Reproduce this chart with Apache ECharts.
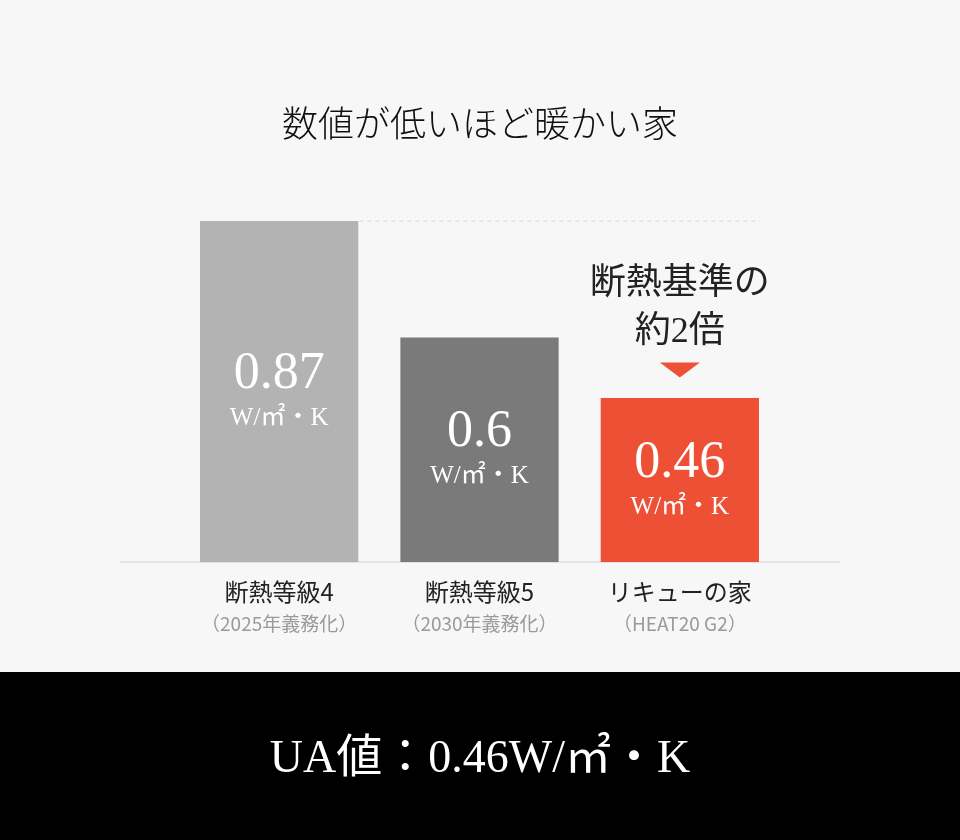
<!DOCTYPE html>
<html>
<head>
<meta charset="utf-8">
<script src="https://cdn.jsdelivr.net/npm/echarts@6/dist/echarts.min.js"></script>
<style>
  html, body { margin: 0; padding: 0; background: #f7f7f7; }
  #main { width: 960px; height: 840px; }
</style>
</head>
<body>
<div id="main"></div>
<script>
// データ
var categories = ['断熱等級4', '断熱等級5', 'リキューの家'];
var subLabels = ['（2025年義務化）', '（2030年義務化）', '（HEAT20 G2）'];
var uaValues = [0.87, 0.6, 0.46];
var barColors = ['#b3b3b3', '#7a7a7a', '#ee5035'];
var unitText = 'W/㎡・K';
var calloutText = '断熱基準の\n約2倍';
var titleText = '数値が低いほど暖かい家';
var footerText = 'UA値：0.46W/㎡・K';

var serif = "'Liberation Serif', 'DejaVu Serif', 'Noto Sans CJK JP', serif";
var sans = "'Noto Sans CJK JP', 'Noto Sans', sans-serif";

var myChart = echarts.init(document.getElementById('main'));

var barData = [];
for (var i = 0; i < uaValues.length; i++) {
    barData.push({ value: uaValues[i], itemStyle: { color: barColors[i] } });
}
var subMap = {};
for (var j = 0; j < categories.length; j++) subMap[categories[j]] = subLabels[j];

// 最大値の点線（バー1右端からバー3右端まで）
var maxVal = Math.max.apply(null, uaValues);
var dashData = [[0.9, maxVal], [uaValues.length - 0.1, maxVal]];

var option = {
    backgroundColor: '#f7f7f7',
    title: {
        text: titleText,
        left: 'center',
        top: 100,
        textStyle: { fontFamily: sans, fontSize: 36, fontWeight: 300, color: '#111' }
    },
    grid: { left: 179, right: 180, top: 221, bottom: 278 },
    xAxis: [{
        type: 'category',
        data: categories,
        axisLine: { show: false },
        axisTick: { show: false },
        axisLabel: {
            margin: 13,
            formatter: function (v) { return '{a|' + v + '}\n{b|' + subMap[v] + '}'; },
            rich: {
                a: { fontFamily: sans, fontSize: 24, color: '#222', lineHeight: 34 },
                b: { fontFamily: sans, fontSize: 19, color: '#9a9a9a', lineHeight: 30 }
            }
        }
    }, {
        type: 'value', min: 0, max: uaValues.length, show: false
    }],
    yAxis: {
        type: 'value', min: 0.08, max: maxVal, show: false
    },
    graphic: [
        {
            type: 'line',
            shape: { x1: 120, y1: 562, x2: 840, y2: 562 },
            style: { stroke: '#cfcfcf', lineWidth: 1 },
            z: 1
        },
        {
            type: 'rect',
            shape: { x: 0, y: 672, width: 960, height: 168 },
            style: { fill: '#000' }
        },
        {
            type: 'text',
            left: 'center',
            top: 737,
            style: { text: footerText, fill: '#fff', font: 'normal 46px ' + serif }
        }
    ],
    series: [{
        type: 'bar',
        data: barData,
        barWidth: '79%',
        z: 3,
        label: {
            show: true,
            position: 'inside',
            formatter: function (p) { return '{v|' + p.value + '}\n{u|' + unitText + '}'; },
            rich: {
                v: { fontFamily: serif, fontSize: 52, color: '#fff', lineHeight: 54 },
                u: { fontFamily: serif, fontSize: 25, color: '#fff', lineHeight: 34 }
            }
        },
        markPoint: {
            symbol: 'triangle',
            symbolRotate: 180,
            symbolSize: [40, 15],
            symbolOffset: [0, -28],
            itemStyle: { color: barColors[2] },
            label: {
                show: true,
                position: 'top',
                distance: 6,
                formatter: calloutText,
                fontFamily: serif,
                fontSize: 36,
                lineHeight: 48,
                color: '#222',
                align: 'center'
            },
            data: [{ coord: [categories[2], uaValues[2]] }]
        }
    }, {
        type: 'line',
        xAxisIndex: 1,
        data: dashData,
        symbol: 'none',
        silent: true,
        lineStyle: { color: '#cccccc', width: 1, type: [4, 4] },
        z: 1
    }]
};

myChart.setOption(option);
</script>
</body>
</html>
